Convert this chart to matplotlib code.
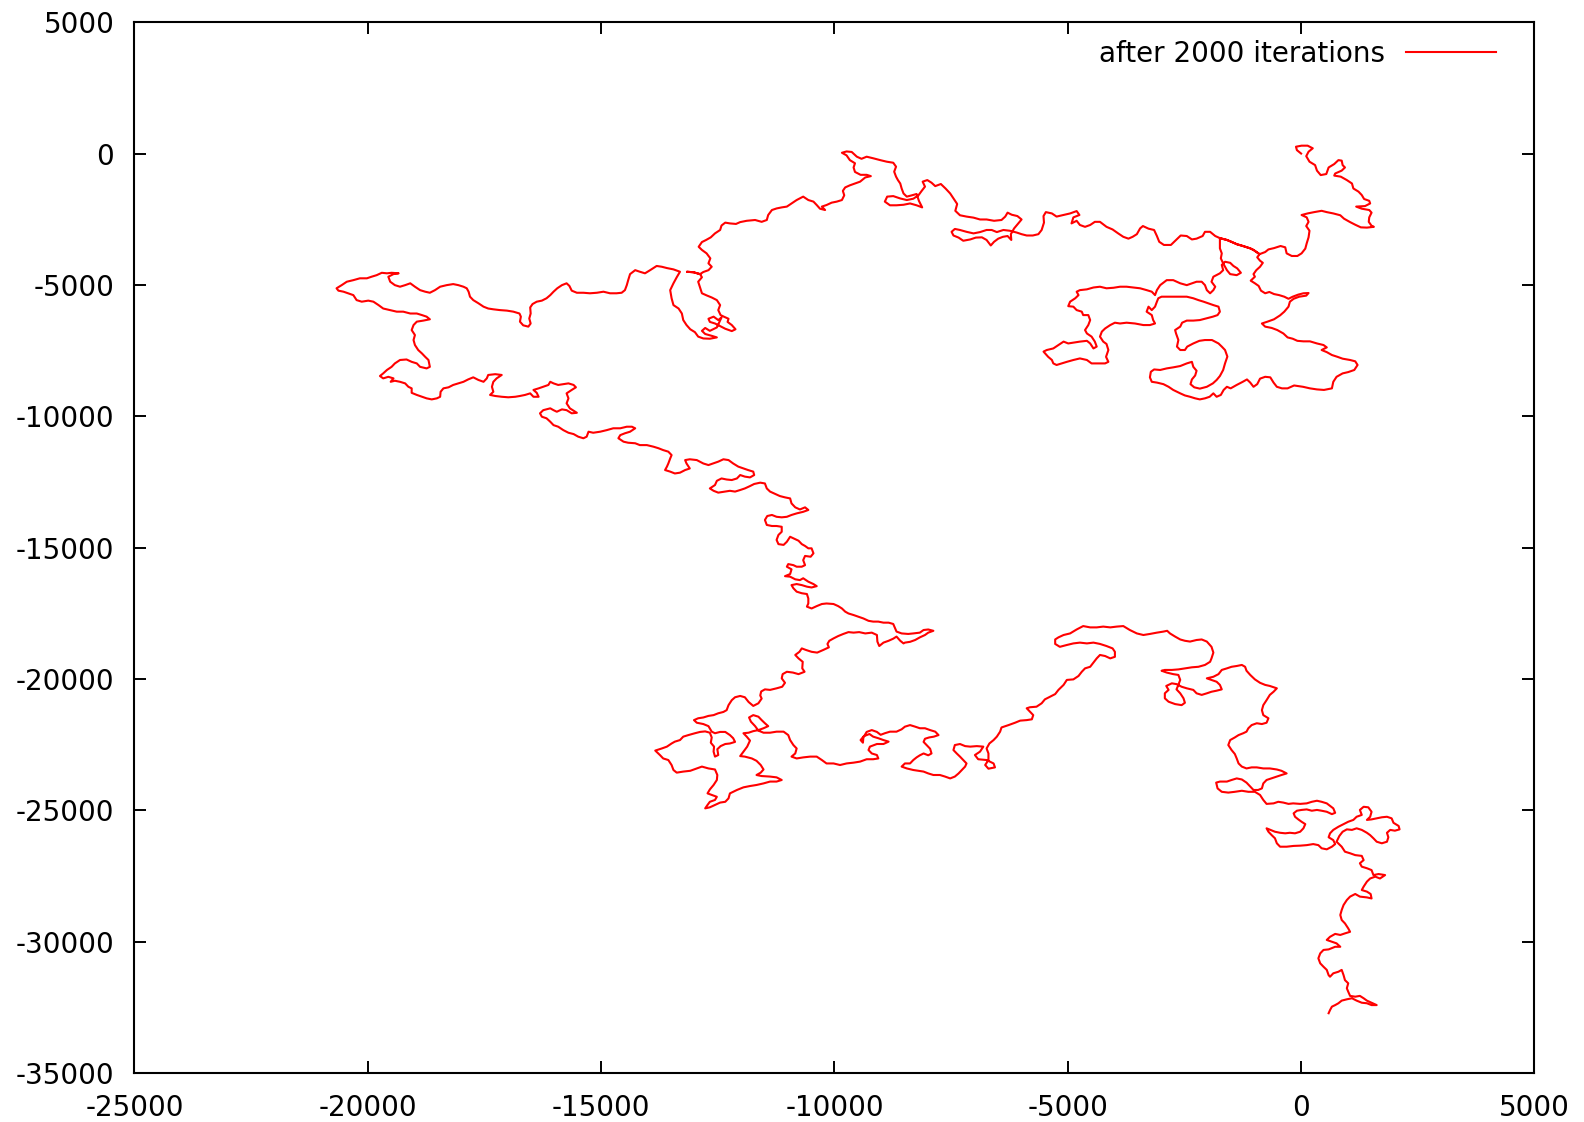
import numpy as np
import matplotlib
matplotlib.use("Agg")
import matplotlib.pyplot as plt

plt.rcParams["font.family"] = ["DejaVu Sans"]
plt.rcParams["axes.unicode_minus"] = False

# ---- random-walk trajectory, split into consecutive stretches (x, y) ----
walk_start = [
    (0, 0), (-90, 130), (-110, 260), (10, 300), (140, 300), (250, 200), (160, 70), (110, -100),
    (180, -310), (300, -440), (340, -650), (420, -820), (540, -780), (590, -530), (710, -400),
    (800, -250), (870, -270), (890, -440), (940, -530), (870, -650), (730, -760), (710, -840),
    (850, -880), (980, -1010), (1090, -1140), (1120, -1330), (1230, -1450), (1300, -1580),
    (1350, -1730), (1460, -1800), (1480, -1900), (1370, -2000), (1180, -2020), (1300, -2100),
    (1460, -2150), (1510, -2250), (1460, -2430), (1450, -2600), (1510, -2750), (1560, -2790),
    (1410, -2820), (1280, -2810), (1160, -2710), (1050, -2610), (920, -2480), (840, -2350),
    (690, -2280), (550, -2230), (440, -2180), (280, -2230), (140, -2280), (10, -2340),
    (120, -2430), (160, -2600), (110, -2760), (180, -2940), (160, -3190), (120, -3420),
    (90, -3620), (10, -3800), (-80, -3900), (-200, -3900), (-310, -3800), (-340, -3570),
    (-440, -3520), (-580, -3600), (-700, -3650), (-770, -3750), (-890, -3830), (-1020, -3670),
]

walk_junction = [
    (-1090, -3610), (-1240, -3520), (-1380, -3450), (-1490, -3360), (-1590, -3290),
    (-1740, -3220), (-1590, -3290), (-1380, -3450), (-1090, -3610), (-1020, -3670),
    (-890, -3830),
]

walk_east_cluster = [
    (-940, -3950), (-880, -4080), (-820, -4160), (-880, -4310), (-960, -4440), (-1020, -4590),
    (-990, -4690), (-1080, -4840), (-990, -4940), (-910, -5040), (-860, -5220), (-770, -5320),
    (-680, -5270), (-580, -5350), (-470, -5390), (-360, -5450), (-270, -5530), (-180, -5450),
    (-60, -5370), (50, -5320), (160, -5310), (110, -5410), (-40, -5450), (-160, -5530),
    (-240, -5640), (-270, -5830), (-360, -6020), (-450, -6160), (-580, -6310), (-720, -6400),
    (-840, -6470), (-770, -6590), (-630, -6640), (-510, -6720), (-380, -6850), (-290, -7000),
    (-180, -7050), (-80, -7130), (50, -7150), (190, -7150), (340, -7230), (480, -7290),
    (550, -7380), (440, -7480), (550, -7560), (660, -7670), (780, -7740), (890, -7810),
    (1050, -7860), (1160, -7910), (1210, -8050), (1140, -8240), (1010, -8320), (890, -8370),
    (760, -8500), (690, -8690), (660, -8940), (490, -9000), (340, -8980), (190, -8940),
    (40, -8880), (-150, -8830), (-290, -8940), (-410, -8940), (-520, -8880), (-590, -8720),
    (-660, -8520), (-770, -8500), (-880, -8570), (-940, -8780), (-1020, -8880), (-1090, -8720),
    (-1160, -8600), (-1250, -8690), (-1380, -8810), (-1510, -8940), (-1590, -8880),
    (-1660, -9000), (-1720, -9190), (-1810, -9260), (-1880, -9130), (-1960, -9260),
    (-2060, -9320), (-2170, -9360), (-2270, -9320), (-2380, -9260), (-2490, -9210),
    (-2590, -9130), (-2740, -9000), (-2840, -8880), (-2950, -8780), (-3090, -8720),
    (-3200, -8690), (-3240, -8520), (-3220, -8310), (-3150, -8220), (-3020, -8240),
    (-2880, -8180), (-2740, -8140), (-2590, -8090), (-2450, -7990), (-2340, -7930),
    (-2310, -8120), (-2240, -8270), (-2270, -8450), (-2340, -8600), (-2370, -8780),
    (-2290, -8900), (-2170, -8950), (-2020, -8880), (-1890, -8750), (-1810, -8620),
    (-1740, -8470), (-1670, -8240), (-1630, -7990), (-1580, -7730), (-1630, -7480),
    (-1700, -7350), (-1770, -7230), (-1910, -7100), (-2060, -7100), (-2180, -7130),
    (-2310, -7230), (-2440, -7350), (-2490, -7480), (-2590, -7480), (-2660, -7350),
    (-2630, -7100), (-2680, -6850), (-2700, -6720), (-2590, -6590), (-2550, -6440),
    (-2450, -6360), (-2310, -6360), (-2170, -6340), (-2020, -6270), (-1890, -6210),
    (-1790, -6150), (-1740, -6020), (-1770, -5830), (-1880, -5770), (-1990, -5700),
    (-2090, -5640), (-2200, -5580), (-2310, -5510), (-2450, -5450), (-2590, -5450),
    (-2740, -5450), (-2880, -5450), (-2990, -5450), (-3060, -5510), (-3090, -5640),
    (-3130, -5830), (-3200, -5960), (-3270, -5830), (-3310, -6020), (-3200, -6150),
    (-3170, -6340), (-3130, -6470), (-3240, -6530), (-3380, -6530), (-3560, -6470),
    (-3740, -6440), (-3880, -6470), (-3990, -6440), (-4090, -6530), (-4200, -6660),
    (-4270, -6780), (-4310, -6970), (-4240, -7160), (-4170, -7250), (-4130, -7480),
    (-4180, -7740), (-4130, -7930), (-4200, -7990), (-4340, -7990), (-4490, -7990),
    (-4590, -7860), (-4740, -7800), (-4880, -7860), (-5020, -7930), (-5130, -7990),
    (-5240, -8050), (-5310, -7990), (-5340, -7860), (-5420, -7740), (-5520, -7540),
    (-5450, -7480), (-5310, -7420), (-5200, -7290), (-5090, -7160), (-4990, -7230),
    (-4880, -7200), (-4740, -7160), (-4590, -7130), (-4520, -7230), (-4450, -7420),
    (-4380, -7350), (-4420, -7160), (-4490, -6970), (-4590, -6850), (-4630, -6720),
    (-4560, -6530), (-4520, -6340), (-4560, -6150), (-4670, -6150), (-4700, -6020),
    (-4810, -5960), (-4880, -5830), (-4990, -5810), (-4950, -5640), (-4840, -5510),
    (-4770, -5390), (-4810, -5260), (-4740, -5200), (-4590, -5170), (-4450, -5100),
    (-4310, -5070), (-4170, -5130), (-4020, -5110), (-3880, -5070), (-3740, -5070),
    (-3590, -5100), (-3450, -5130), (-3310, -5200), (-3200, -5260), (-3130, -5390),
    (-3090, -5200), (-3020, -5010), (-2880, -4820), (-2740, -4820), (-2590, -4940),
    (-2450, -5010), (-2340, -4940), (-2240, -4880), (-2130, -4880), (-2060, -5010),
    (-2020, -5200), (-1950, -5320), (-1880, -5200), (-1840, -5070), (-1920, -4880),
    (-1880, -4690), (-1740, -4560), (-1670, -4440), (-1700, -4240), (-1630, -4120),
    (-1520, -4160), (-1450, -4280), (-1370, -4370), (-1290, -4540), (-1380, -4630),
    (-1520, -4590), (-1590, -4440), (-1670, -4180), (-1720, -3990), (-1700, -3800),
    (-1740, -3610), (-1740, -3400), (-1740, -3220),
]

walk_north_ridge = [
    (-1840, -3140), (-1950, -2980), (-2060, -2980), (-2110, -3140), (-2240, -3240),
    (-2340, -3270), (-2450, -3140), (-2580, -3120), (-2680, -3290), (-2790, -3480),
    (-2940, -3480), (-3040, -3360), (-3090, -3140), (-3150, -2910), (-3270, -2860),
    (-3390, -2760), (-3450, -2850), (-3520, -3070), (-3610, -3170), (-3700, -3240),
    (-3810, -3170), (-3920, -3040), (-4040, -2890), (-4170, -2790), (-4310, -2600),
    (-4420, -2600), (-4520, -2720), (-4630, -2790), (-4740, -2720), (-4810, -2560),
    (-4920, -2660), (-4880, -2430), (-4750, -2340), (-4810, -2190), (-4950, -2280),
    (-5090, -2340), (-5240, -2400), (-5340, -2280), (-5470, -2230), (-5520, -2380),
    (-5510, -2630), (-5560, -2910), (-5630, -3070), (-5750, -3120), (-5880, -3120),
    (-5990, -3070),
    (-6090, -3010), (-6240, -2940), (-6380, -2910), (-6520, -2990), (-6630, -2910),
    (-6740, -2910), (-6880, -2990), (-7020, -3040), (-7170, -2980), (-7310, -2910),
    (-7420, -2870), (-7490, -2980), (-7450, -3120), (-7340, -3200), (-7240, -3320),
    (-7090, -3270), (-6970, -3200), (-6840, -3190), (-6740, -3290), (-6650, -3500),
    (-6580, -3360), (-6490, -3240), (-6390, -3170), (-6290, -3140), (-6210, -3290),
    (-6220, -3070), (-6150, -2850), (-6060, -2660), (-5990, -2510), (-6080, -2380),
    (-6200, -2330), (-6290, -2250), (-6340, -2400), (-6420, -2530), (-6580, -2560),
    (-6740, -2510), (-6880, -2510), (-7020, -2440), (-7170, -2400), (-7310, -2350),
    (-7410, -2180), (-7370, -1920), (-7450, -1710), (-7520, -1520), (-7620, -1330),
    (-7720, -1160), (-7840, -1240),
]

walk_summit = [
    (-7920, -1110), (-8010, -1010), (-8110, -1070), (-8060, -1260), (-8130, -1420),
    (-8200, -1590), (-8310, -1720), (-8450, -1770), (-8590, -1710), (-8740, -1620),
    (-8870, -1640), (-8920, -1830), (-8810, -1970), (-8670, -1970), (-8520, -1950),
    (-8380, -1900), (-8240, -1970), (-8120, -2050), (-8190, -1800), (-8240, -1540),
    (-8340, -1590), (-8450, -1640), (-8520, -1520), (-8560, -1330), (-8590, -1140),
    (-8640, -1010), (-8680, -880), (-8720, -690), (-8680, -500), (-8740, -350),
    (-8880, -310), (-9020, -250), (-9170, -180), (-9310, -120), (-9420, -200),
    (-9520, -120), (-9630, 60), (-9740, 80), (-9840, 30), (-9740, -70), (-9670, -250),
    (-9560, -370), (-9590, -530), (-9560, -700), (-9440, -810), (-9310, -810),
    (-9220, -860), (-9340, -910), (-9450, -1070), (-9560, -1140), (-9670, -1210),
    (-9770, -1290), (-9820, -1420), (-9790, -1590), (-9840, -1770), (-9950, -1830),
    (-10060, -1870), (-10170, -1960), (-10270, -2020), (-10200, -2150), (-10310, -2100),
    (-10380, -1960), (-10450, -1830), (-10560, -1770), (-10670, -1640), (-10810, -1770),
    (-10920, -1900), (-11020, -2020), (-11130, -2050), (-11240, -2090), (-11340, -2150),
    (-11420, -2340), (-11450, -2530), (-11560, -2600), (-11700, -2530), (-11880, -2560),
    (-12020, -2610), (-12110, -2680), (-12240, -2660), (-12340, -2630), (-12420, -2740),
    (-12450, -2910), (-12560, -3040), (-12650, -3190), (-12750, -3290), (-12840, -3370),
    (-12910, -3550),
]

walk_hanging_loop = [
    (-12840, -3670), (-12740, -3800), (-12660, -3990), (-12700, -4180), (-12630, -4310),
    (-12700, -4440), (-12810, -4510), (-12880, -4590), (-13020, -4520), (-13160, -4500),
    (-13020, -4520), (-12880, -4590), (-12840, -4710), (-12920, -4880), (-12880, -5100),
    (-12840, -5320), (-12740, -5400), (-12630, -5480), (-12520, -5580), (-12450, -5770),
    (-12490, -5960), (-12440, -6150), (-12370, -6210), (-12270, -6290), (-12290, -6410),
    (-12200, -6530), (-12120, -6690), (-12200, -6760), (-12340, -6670), (-12450, -6570),
    (-12560, -6470), (-12670, -6410), (-12700, -6290), (-12590, -6210), (-12490, -6340),
    (-12420, -6240), (-12520, -6620), (-12670, -6750), (-12770, -6640), (-12840, -6750),
    (-12770, -6870), (-12630, -6940), (-12520, -7000), (-12670, -7050), (-12810, -7040),
    (-12920, -6970), (-12990, -6800), (-13090, -6690), (-13170, -6530), (-13240, -6340),
    (-13270, -6090), (-13340, -5900), (-13450, -5770), (-13490, -5510), (-13520, -5200),
    (-13450, -4940), (-13380, -4710), (-13310, -4500), (-13450, -4410), (-13590, -4360),
    (-13700, -4310), (-13810, -4280), (-13950, -4440), (-14060, -4560), (-14170, -4500),
]

walk_west_lobe = [
    (-14270, -4440), (-14380, -4590), (-14420, -4820), (-14450, -5010), (-14490, -5200),
    (-14560, -5300), (-14670, -5320), (-14810, -5320), (-14950, -5260), (-15090, -5300),
    (-15240, -5320), (-15380, -5300), (-15520, -5300), (-15630, -5220), (-15680, -5040),
    (-15740, -4940), (-15840, -5010), (-15940, -5130), (-16020, -5260), (-16090, -5390),
    (-16170, -5510), (-16270, -5600), (-16380, -5640), (-16470, -5730), (-16520, -5860),
    (-16510, -6090), (-16540, -6280), (-16510, -6470), (-16560, -6590), (-16670, -6540),
    (-16740, -6400), (-16720, -6210), (-16750, -6090), (-16880, -6020), (-17020, -5980),
    (-17170, -5960), (-17310, -5930), (-17420, -5900), (-17520, -5830), (-17630, -5700),
    (-17740, -5580), (-17810, -5450), (-17840, -5260), (-17880, -5130), (-17950, -5070),
    (-18060, -5010), (-18170, -4970), (-18310, -5010), (-18450, -5070), (-18560, -5200),
    (-18670, -5300), (-18770, -5260), (-18880, -5200), (-18990, -5070), (-19090, -4940),
    (-19200, -5010), (-19310, -5070), (-19420, -5010), (-19520, -4880), (-19560, -4690),
    (-19450, -4590), (-19340, -4560), (-19490, -4540), (-19590, -4560), (-19700, -4540),
    (-19810, -4630), (-19920, -4690), (-20020, -4750), (-20170, -4750), (-20310, -4820),
    (-20450, -4880), (-20560, -5010), (-20670, -5130), (-20630, -5220), (-20520, -5260),
    (-20420, -5320), (-20310, -5390), (-20240, -5580), (-20130, -5640), (-19990, -5600),
    (-19880, -5640), (-19770, -5770), (-19670, -5900), (-19520, -5960), (-19380, -6020),
    (-19240, -6020), (-19090, -6090), (-18950, -6090), (-18840, -6150), (-18740, -6210),
    (-18670, -6310), (-18810, -6360), (-18950, -6400), (-19020, -6530), (-19060, -6720),
    (-18990, -6910), (-19020, -7100), (-18990, -7290), (-18920, -7480), (-18840, -7610),
    (-18770, -7740), (-18700, -7860), (-18670, -8120), (-18740, -8180), (-18880, -8120),
    (-18950, -7990), (-19060, -7930), (-19170, -7840), (-19310, -7860), (-19420, -7990),
    (-19490, -8120), (-19590, -8240), (-19670, -8370), (-19740, -8470), (-19670, -8560),
    (-19560, -8500), (-19450, -8560), (-19510, -8690), (-19420, -8650), (-19310, -8690),
    (-19200, -8750), (-19130, -8880), (-19060, -8940), (-19060, -9110), (-18950, -9190),
    (-18840, -9260), (-18740, -9320), (-18630, -9360), (-18520, -9320), (-18450, -9260),
    (-18440, -9070), (-18380, -8940), (-18270, -8900), (-18170, -8810), (-18060, -8750),
    (-17950, -8690), (-17850, -8600), (-17740, -8520), (-17630, -8620), (-17520, -8690),
    (-17450, -8560), (-17420, -8430), (-17270, -8400), (-17130, -8430), (-17240, -8560),
    (-17310, -8690), (-17340, -8880), (-17310, -9070), (-17380, -9190), (-17270, -9230),
    (-17130, -9260), (-16990, -9280), (-16840, -9260), (-16740, -9230), (-16630, -9190),
    (-16520, -9130), (-16450, -9260), (-16340, -9260), (-16380, -9110), (-16450, -9000),
    (-16340, -8940), (-16240, -8880), (-16130, -8810), (-16090, -8690), (-16020, -8750),
    (-15920, -8810), (-15810, -8780), (-15700, -8750), (-15590, -8810), (-15540, -8900),
    (-15630, -9000), (-15740, -9130), (-15700, -9320), (-15740, -9510), (-15670, -9700),
    (-15520, -9870), (-15630, -9890), (-15740, -9770), (-15840, -9740), (-15950, -9830),
    (-16020, -9770), (-16090, -9700), (-16240, -9770), (-16310, -9890), (-16270, -10020),
    (-16170, -10080), (-16090, -10210), (-16020, -10340), (-15920, -10400), (-15810, -10530),
    (-15700, -10630), (-15590, -10680), (-15490, -10780), (-15380, -10840), (-15310, -10780),
    (-15270, -10590), (-15170, -10630), (-15020, -10590), (-14880, -10530), (-14740, -10460),
    (-14590, -10460), (-14450, -10400), (-14340, -10400), (-14270, -10460), (-14380, -10590),
    (-14490, -10650), (-14590, -10720), (-14630, -10840), (-14520, -10970), (-14420, -11010),
    (-14270, -11030), (-14170, -11100), (-14020, -11100), (-13880, -11160), (-13770, -11220),
    (-13670, -11290), (-13560, -11350), (-13490, -11480), (-13520, -11610), (-13560, -11800),
    (-13590, -11920), (-13630, -12050), (-13520, -12110), (-13420, -12180), (-13310, -12150),
    (-13200, -12050), (-13100, -11990), (-13170, -11800), (-13200, -11670), (-13100, -11640),
    (-12950, -11670), (-12810, -11800), (-12700, -11860), (-12600, -11800), (-12490, -11730),
    (-12380, -11640), (-12270, -11670), (-12170, -11800), (-12060, -11920), (-11950, -11990),
    (-11850, -12050), (-11740, -12110),
]

walk_descent = [
    (-11720, -12240), (-11810, -12330), (-11920, -12300), (-12020, -12240), (-12090, -12370),
    (-12200, -12430), (-12310, -12410), (-12420, -12370), (-12520, -12460), (-12560, -12620),
    (-12670, -12750), (-12590, -12840), (-12490, -12910), (-12340, -12870), (-12240, -12840),
    (-12130, -12870), (-12020, -12810), (-11920, -12750), (-11810, -12660), (-11720, -12580),
    (-11590, -12530), (-11490, -12560), (-11450, -12750), (-11380, -12870), (-11270, -12960),
    (-11170, -13040), (-11060, -13090), (-10950, -13130), (-10920, -13320), (-10840, -13470),
    (-10740, -13550), (-10630, -13470), (-10560, -13570), (-10670, -13640), (-10810, -13700),
    (-10920, -13760), (-11020, -13830), (-11130, -13850), (-11240, -13830), (-11340, -13760),
    (-11440, -13800), (-11490, -13950), (-11450, -14140), (-11340, -14180), (-11240, -14180),
    (-11130, -14210), (-11130, -14400), (-11200, -14520), (-11240, -14710), (-11200, -14870),
    (-11090, -14900), (-11020, -14780), (-10950, -14590), (-10880, -14650), (-10770, -14740),
    (-10700, -14870), (-10630, -14940), (-10560, -15030), (-10490, -15030), (-10450, -15220),
    (-10510, -15350), (-10630, -15320), (-10670, -15480), (-10630, -15670), (-10700, -15730),
    (-10810, -15730), (-10880, -15670), (-10990, -15630), (-11020, -15730), (-10920, -15830),
    (-10950, -16010), (-11060, -16090), (-10950, -16110), (-10840, -16210), (-10740, -16240),
    (-10670, -16170), (-10560, -16300), (-10450, -16390), (-10380, -16470), (-10490, -16520),
    (-10590, -16490), (-10700, -16430), (-10810, -16390), (-10920, -16430), (-10880, -16550),
    (-10810, -16680), (-10700, -16740), (-10590, -16770), (-10560, -16940), (-10560, -17130),
    (-10590, -17250), (-10490, -17320), (-10380, -17230), (-10270, -17150), (-10170, -17130),
    (-10020, -17150), (-9920, -17230), (-9840, -17320), (-9770, -17440), (-9700, -17510),
    (-9590, -17570), (-9490, -17630), (-9380, -17700), (-9270, -17790), (-9170, -17820),
    (-9060, -17820), (-8950, -17860), (-8840, -17860), (-8740, -17910), (-8700, -18080),
    (-8670, -18200), (-8560, -18270), (-8420, -18290), (-8310, -18270), (-8170, -18240),
    (-8090, -18140), (-7990, -18120), (-7880, -18170), (-7990, -18240), (-8060, -18330),
    (-8170, -18420), (-8270, -18520), (-8380, -18590), (-8490, -18620),
]

walk_south_lobe = [
    (-8520, -18650), (-8590, -18550), (-8670, -18390), (-8740, -18470), (-8840, -18550),
    (-8950, -18620), (-9040, -18750), (-9080, -18580), (-9090, -18330), (-9200, -18240),
    (-9340, -18270), (-9470, -18220), (-9590, -18240), (-9700, -18220), (-9810, -18290),
    (-9920, -18370), (-10020, -18460), (-10110, -18550), (-10150, -18670), (-10120, -18800),
    (-10240, -18900), (-10370, -19000), (-10490, -18970), (-10610, -18900), (-10700, -18840),
    (-10750, -18970), (-10840, -19090), (-10770, -19220), (-10680, -19350), (-10690, -19600),
    (-10640, -19730), (-10770, -19820), (-10890, -19760), (-11020, -19730), (-11110, -19820),
    (-11130, -19980), (-11060, -20150), (-11120, -20300), (-11240, -20360), (-11380, -20420),
    (-11490, -20400), (-11570, -20480), (-11590, -20630), (-11560, -20750), (-11630, -20930),
    (-11740, -21030), (-11840, -20880), (-11920, -20700), (-12020, -20650), (-12130, -20700),
    (-12200, -20810), (-12270, -21000), (-12310, -21190), (-12380, -21260), (-12490, -21310),
    (-12590, -21380), (-12700, -21410), (-12810, -21470), (-12920, -21500), (-13010, -21570),
    (-12950, -21670), (-12810, -21720), (-12700, -21800), (-12630, -22010),
    (-12560, -22070), (-12450, -22020), (-12340, -22020), (-12240, -22140), (-12170, -22260),
    (-12130, -22400), (-12240, -22460), (-12340, -22480), (-12440, -22560), (-12510, -22680),
    (-12490, -22900), (-12560, -22960), (-12590, -22770), (-12580, -22580), (-12650, -22430),
    (-12630, -22230), (-12670, -22050),
    (-12770, -22000), (-12880, -22020), (-12990, -22070), (-13130, -22140), (-13240, -22200),
    (-13310, -22330), (-13420, -22390), (-13490, -22460), (-13590, -22580), (-13700, -22650),
    (-13840, -22730), (-13740, -22900), (-13670, -23030), (-13560, -23090), (-13490, -23280),
    (-13450, -23470), (-13380, -23570), (-13240, -23530), (-13090, -23500), (-12950, -23410),
    (-12840, -23340), (-12700, -23410), (-12560, -23450), (-12510, -23660), (-12520, -23850),
    (-12590, -24040), (-12670, -24210), (-12720, -24360), (-12630, -24420), (-12520, -24490),
    (-12560, -24610), (-12670, -24680), (-12720, -24800), (-12770, -24930), (-12670, -24890),
    (-12560, -24800), (-12450, -24710), (-12340, -24680), (-12270, -24550), (-12240, -24360),
    (-12090, -24230), (-11950, -24130), (-11810, -24080), (-11670, -24040), (-11520, -23980),
    (-11380, -23910), (-11240, -23910), (-11130, -23850), (-11240, -23750), (-11380, -23720),
    (-11560, -23700), (-11670, -23660), (-11580, -23570), (-11520, -23450), (-11580, -23280),
    (-11670, -23120), (-11770, -23030), (-11920, -22960), (-12020, -22940), (-11950, -22770),
    (-11870, -22580), (-11810, -22350), (-11880, -22200), (-11950, -22070), (-11840, -22050),
    (-11740, -21990), (-11630, -21950), (-11520, -21880), (-11420, -21800), (-11490, -21690),
    (-11560, -21570), (-11630, -21440), (-11740, -21380), (-11830, -21470), (-11790, -21630),
    (-11700, -21800), (-11630, -21970), (-11520, -22050), (-11380, -22050), (-11240, -22010),
    (-11090, -22010), (-10990, -22140), (-10950, -22330), (-10880, -22520), (-10810, -22650),
    (-10840, -22840), (-10920, -22960), (-10810, -23030), (-10670, -22990), (-10520, -22960),
    (-10380, -22960), (-10270, -23090), (-10170, -23220), (-10020, -23220), (-9880, -23280),
    (-9740, -23220), (-9590, -23190), (-9450, -23150), (-9310, -23060), (-9170, -23060),
    (-9060, -23030), (-9090, -22900), (-9200, -22840), (-9270, -22710), (-9240, -22580),
    (-9090, -22480), (-8950, -22480), (-8840, -22390), (-8950, -22330), (-9060, -22260),
    (-9170, -22200), (-9250, -22100), (-9370, -22180), (-9440, -22330), (-9390, -22430),
    (-9380, -22230), (-9310, -22020), (-9200, -21950), (-9090, -22020), (-9010, -22130),
    (-8920, -22070), (-8810, -22010), (-8670, -22010), (-8560, -21920), (-8490, -21820),
    (-8380, -21760), (-8270, -21820), (-8170, -21880), (-8060, -21880), (-7950, -21950),
    (-7840, -22010), (-7770, -22140), (-7870, -22200), (-7970, -22230), (-8060, -22280),
    (-8090, -22400), (-8020, -22530), (-7950, -22660), (-7920, -22840), (-7990, -22910),
    (-8090, -22840), (-8170, -22910), (-8240, -22990), (-8310, -23090), (-8380, -23220),
    (-8490, -23220), (-8560, -23340), (-8450, -23410), (-8310, -23470), (-8200, -23500),
    (-8090, -23530), (-7990, -23600), (-7880, -23660), (-7740, -23660), (-7630, -23720),
    (-7520, -23790), (-7420, -23720), (-7340, -23600), (-7270, -23470), (-7200, -23340),
    (-7170, -23220), (-7240, -23090), (-7310, -22960), (-7380, -22840), (-7450, -22710),
    (-7420, -22520), (-7310, -22480), (-7200, -22560), (-7090, -22580),
]

walk_rise_and_hook = [
    (-6950, -22560), (-6810, -22580), (-6880, -22770), (-6990, -22900), (-6920, -23060),
    (-6740, -23090), (-6590, -23220), (-6560, -23370), (-6700, -23420), (-6770, -23280),
    (-6700, -23090), (-6700, -22840), (-6740, -22650), (-6680, -22460), (-6590, -22330),
    (-6520, -22200), (-6450, -22010), (-6420, -21850), (-6270, -21760), (-6130, -21670),
    (-6020, -21590), (-5880, -21570), (-5770, -21540), (-5740, -21380), (-5810, -21250),
    (-5880, -21120), (-5810, -21080), (-5670, -21060), (-5560, -20930), (-5490, -20780),
    (-5380, -20680), (-5270, -20580), (-5200, -20420), (-5090, -20230), (-5020, -20040),
    (-4880, -20020), (-4770, -19890), (-4700, -19730), (-4630, -19600), (-4520, -19540),
    (-4450, -19380), (-4380, -19220), (-4310, -19090), (-4200, -19130), (-4090, -19220),
    (-3990, -19160), (-3990, -18970), (-4040, -18840), (-4170, -18750), (-4310, -18670),
    (-4450, -18620), (-4590, -18650), (-4740, -18620), (-4880, -18650), (-5020, -18710),
    (-5170, -18780), (-5270, -18670), (-5270, -18500), (-5200, -18420), (-5090, -18330),
    (-4950, -18270), (-4810, -18120), (-4670, -17990), (-4520, -18040), (-4380, -18040),
    (-4240, -18010), (-4090, -18040), (-3950, -18010), (-3810, -17990), (-3670, -18140),
    (-3520, -18270), (-3380, -18330), (-3240, -18290), (-3090, -18240), (-2950, -18200),
    (-2870, -18170), (-2810, -18270), (-2700, -18390), (-2590, -18500), (-2490, -18550),
    (-2380, -18580), (-2240, -18520), (-2130, -18500), (-2020, -18580), (-1920, -18780),
    (-1880, -19000), (-1920, -19220), (-1950, -19350), (-2060, -19470), (-2200, -19540),
    (-2340, -19560), (-2490, -19600), (-2630, -19640), (-2770, -19660), (-2920, -19660),
    (-2990, -19690), (-2880, -19760), (-2740, -19820), (-2630, -19850), (-2590, -20040),
    (-2630, -20230), (-2670, -20400), (-2590, -20550), (-2520, -20740), (-2490, -20910),
    (-2560, -21000), (-2700, -20960), (-2840, -20870), (-2920, -20740), (-2920, -20550),
    (-2840, -20420), (-2890, -20270), (-2770, -20170), (-2670, -20200), (-2560, -20300),
    (-2450, -20360), (-2310, -20420), (-2240, -20550), (-2130, -20610), (-2020, -20550),
    (-1920, -20490), (-1810, -20450), (-1700, -20400), (-1740, -20230), (-1810, -20110),
    (-1920, -20040), (-2020, -19980), (-1880, -19920), (-1770, -19820), (-1700, -19660),
    (-1590, -19600), (-1490, -19540), (-1380, -19510), (-1270, -19470), (-1200, -19540),
    (-1170, -19690), (-1090, -19850), (-990, -20020), (-880, -20150), (-770, -20230),
    (-670, -20270), (-520, -20360), (-590, -20490), (-670, -20610), (-740, -20810),
    (-810, -21000), (-840, -21190), (-810, -21380), (-700, -21500), (-740, -21670),
    (-840, -21720), (-950, -21690), (-1060, -21760), (-1130, -21880), (-1170, -22010),
    (-1240, -22070), (-1340, -22140), (-1420, -22230), (-1520, -22330), (-1560, -22520),
    (-1490, -22710), (-1420, -22860), (-1380, -23030), (-1340, -23220), (-1270, -23340),
    (-1170, -23410), (-1060, -23370), (-950, -23370), (-810, -23410), (-670, -23410),
    (-520, -23450), (-420, -23500), (-310, -23600), (-420, -23660), (-520, -23720),
    (-630, -23790), (-740, -23850), (-810, -23980), (-840, -24170), (-920, -24230),
    (-1020, -24230), (-1090, -24100), (-1170, -23950), (-1270, -23830), (-1380, -23790),
    (-1490, -23850), (-1590, -23910), (-1740, -23910), (-1820, -23950), (-1790, -24170),
    (-1700, -24300), (-1560, -24330), (-1420, -24300), (-1270, -24260), (-1130, -24300),
    (-990, -24300), (-880, -24420), (-810, -24610), (-740, -24760), (-590, -24740),
    (-490, -24680), (-380, -24710), (-270, -24760), (-170, -24740), (-20, -24760),
    (120, -24740), (230, -24680), (340, -24640), (440, -24680), (550, -24740),
]

walk_finish = [
    (690, -24930), (730, -25100), (660, -25150), (550, -25060), (440, -25020), (340, -24990),
    (230, -25020), (120, -24970), (10, -24990), (-90, -25020), (-160, -25120), (-130, -25250),
    (-60, -25350), (10, -25440), (90, -25530), (50, -25690), (-20, -25820), (-130, -25880),
    (-240, -25860), (-340, -25880), (-450, -25860), (-560, -25820), (-660, -25750),
    (-740, -25690), (-700, -25820), (-630, -25950), (-560, -26070), (-520, -26260),
    (-450, -26390), (-310, -26390), (-160, -26360), (-20, -26350), (120, -26330),
    (260, -26290), (370, -26330), (440, -26450), (550, -26490), (660, -26390), (730, -26290),
    (690, -26140), (590, -26030), (620, -25880), (690, -25750), (800, -25630), (910, -25530),
    (1010, -25440), (1120, -25370), (1190, -25250), (1300, -25180), (1260, -24990),
    (1340, -24870), (1440, -24890), (1510, -25060), (1480, -25250), (1410, -25370),
    (1510, -25350), (1620, -25310), (1730, -25270), (1840, -25250), (1940, -25310),
    (1980, -25480), (2090, -25600), (2110, -25730), (2010, -25780), (1910, -25750),
    (1840, -25860), (1870, -26030), (1840, -26200), (1730, -26260), (1620, -26200),
    (1550, -26070), (1480, -25950), (1410, -25860), (1300, -25750), (1190, -25690),
    (1090, -25750), (980, -25730), (890, -25820), (820, -25980), (760, -26200), (870, -26390),
    (940, -26580), (1050, -26640), (1160, -26710), (1300, -26740), (1340, -26900),
    (1260, -27020), (1300, -27150), (1410, -27210), (1510, -27280), (1550, -27470),
    (1660, -27430), (1800, -27470), (1690, -27600), (1590, -27530), (1480, -27600),
    (1410, -27720), (1340, -27910), (1300, -28040), (1410, -28100), (1490, -28190),
    (1510, -28360), (1410, -28320), (1260, -28290), (1160, -28190), (1050, -28290),
    (980, -28420), (910, -28610), (870, -28800), (840, -28990), (870, -29180), (940, -29310),
    (1010, -29500), (1050, -29630), (940, -29690), (840, -29750), (730, -29710), (620, -29820),
    (550, -29940), (660, -30010), (760, -30070), (840, -30200), (730, -30200), (590, -30300),
    (480, -30320), (410, -30450), (370, -30640), (410, -30830), (480, -30960), (550, -31080),
    (590, -31280), (620, -31340), (690, -31210), (800, -31150), (870, -31080), (910, -31280),
    (940, -31470), (1010, -31590), (980, -31780), (1010, -31910), (1050, -32070),
    (1160, -32100), (1260, -32070), (1340, -32160), (1410, -32250), (1510, -32330),
    (1620, -32420), (1510, -32420), (1410, -32350), (1300, -32330), (1190, -32250),
    (1090, -32160), (980, -32200), (870, -32250), (800, -32350), (730, -32420), (660, -32480),
    (620, -32610), (590, -32730),
]

series_label = "after 2000 iterations"
x_ticks = [-25000, -20000, -15000, -10000, -5000, 0, 5000]
y_ticks = [5000, 0, -5000, -10000, -15000, -20000, -25000, -30000, -35000]

stretches = [walk_start, walk_junction, walk_east_cluster, walk_north_ridge, walk_summit,
             walk_hanging_loop, walk_west_lobe, walk_descent, walk_south_lobe,
             walk_rise_and_hook, walk_finish]
path = np.array([p for s in stretches for p in s], dtype=float)

fig = plt.figure(figsize=(15.84, 11.22), dpi=100)
ax = fig.add_axes([0.0849, 0.0438, 0.8838, 0.9364])

ax.plot(path[:, 0], path[:, 1], color="#ff0000", lw=1.5, label=series_label)

ax.set_xlim(-25000, 5000)
ax.set_ylim(-35000, 5000)
ax.set_xticks(x_ticks)
ax.set_yticks(y_ticks)
ax.set_xticklabels([str(v) for v in x_ticks])
ax.set_yticklabels([str(v) for v in y_ticks])

for sp in ax.spines.values():
    sp.set_linewidth(1.5)
    sp.set_color("black")
ax.tick_params(direction="in", length=8.7, width=1.4, top=True, right=True,
               labelsize=20, colors="black")
ax.tick_params(axis="x", pad=15.5)
ax.tick_params(axis="y", pad=14.5)

ax.legend(loc="upper right", bbox_to_anchor=(0.9725, 0.9835), borderaxespad=0,
          borderpad=0, frameon=False, markerfirst=False, handlelength=3.24,
          handletextpad=0.75, fontsize=20)

fig.savefig("out.png", dpi=100)
